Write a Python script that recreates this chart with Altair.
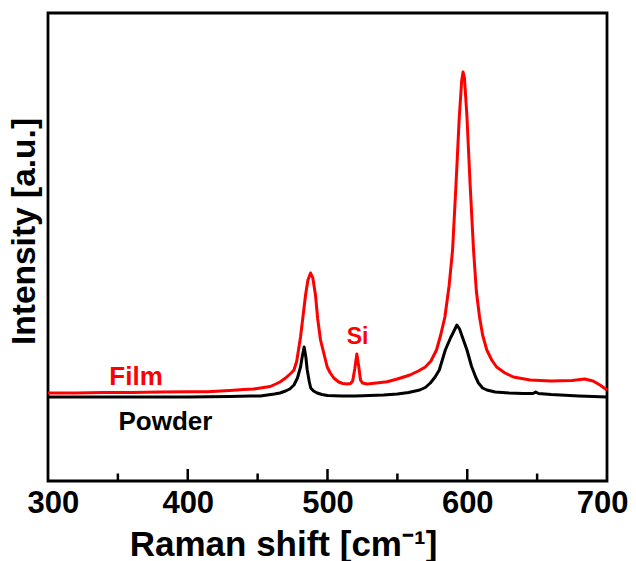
import altair as alt
import pandas as pd

# Raman shift (cm^-1) and intensity (a.u.)
film_x = [300, 320, 340, 360, 380, 400, 414, 430, 440, 447, 452, 459, 463, 466, 470, 474, 476, 478,
          480.7, 482.5, 484.3, 486, 487.9, 489.5, 491.4, 493, 495, 497.5, 499.8, 502, 504.5, 508, 511,
          514, 516.5, 518, 519.5, 521, 522.5, 523.6, 525, 528.4, 535, 542.6, 550, 559, 565, 570, 574,
          578, 581, 584, 587, 589.5, 592, 594.3, 596, 597, 598, 599.8, 602, 604.5, 606.5, 608.8, 611,
          614, 617.5, 621, 627, 633, 645, 660, 675, 684, 690, 695, 700]
film_y = [88, 88, 88.5, 88.5, 89, 89.3, 89.3, 90.5, 91.5, 92, 93, 94.5, 97, 99, 103, 108, 111, 120,
          144, 165, 186, 201, 208, 203, 186, 162, 141, 127, 114, 108, 103, 99, 97.5,
          97, 97.5, 100, 112, 127, 113, 101, 98, 97, 98, 99.3, 102, 106, 110, 114, 120,
          131, 146, 164, 195, 231, 298, 364, 400, 409, 403, 364, 298, 231, 190, 164, 146,
          131, 121, 114, 108, 104, 101, 100, 100.5, 102, 100, 96, 91]

powder_x = [300, 350, 400, 430, 445, 452, 457, 462, 466, 470, 473, 476, 478.5, 480.7, 482, 483.3,
            484.5, 485.5, 487, 488, 490, 492.6, 496, 500, 510, 520, 530, 540, 550, 558, 566, 570,
            573.6, 577, 580, 584.3, 588, 590.5, 592.6, 594.5, 597, 599.8, 603, 606, 608, 611, 614,
            620, 630, 640, 647, 649, 651, 660, 680, 700]
powder_y = [84, 84, 84, 84.5, 85, 85, 86, 87, 88, 90, 92, 96, 103, 114, 125, 134,
            124, 111, 99, 93, 90, 88, 86.5, 85.5, 85, 85, 85.5, 86, 87, 88.5, 91, 93.5,
            98, 104, 111, 131, 143, 150, 156, 152, 142, 131, 115, 104, 98, 93, 91,
            89, 88, 87.5, 87.5, 89, 87.5, 86.5, 85, 84]

x_ticks = [300, 400, 500, 600, 700]
major_ticks = [400, 500, 600]
minor_ticks = [350, 450, 550, 650]

label_text = ["Film", "Powder", "Si"]
label_x = [363, 384, 521.5]
label_y = [104, 59, 144]
label_color = ["#ff0000", "#000000", "#ff0000"]

FONT = "Liberation Sans"

df = pd.concat([
    pd.DataFrame({"shift": film_x, "intensity": film_y, "series": "Film"}),
    pd.DataFrame({"shift": powder_x, "intensity": powder_y, "series": "Powder"}),
])

xs = alt.Scale(domain=[300, 700], nice=False, zero=False)
ys = alt.Scale(domain=[0, 468], nice=False, zero=True)

lines = alt.Chart(df).mark_line(strokeWidth=3, strokeJoin="round").encode(
    x=alt.X("shift:Q", scale=xs,
            axis=alt.Axis(title="Raman shift [cm⁻¹]", values=x_ticks, format="d",
                          ticks=False, domain=False, grid=False,
                          labelFont=FONT, labelFontSize=31, labelFontWeight="bold",
                          labelColor="black", labelPadding=7,
                          labelFlush=True, labelFlushOffset=21,
                          titleFont=FONT, titleFontSize=35, titleFontWeight="bold",
                          titleColor="black", titleBaseline="alphabetic",
                          titleX=235, titleY=74)),
    y=alt.Y("intensity:Q", scale=ys,
            axis=alt.Axis(title="Intensity [a.u.]", labels=False, ticks=False, domain=False,
                          grid=False, titleFont=FONT, titleFontSize=33.5, titleFontWeight="bold",
                          titleColor="black", titlePadding=7, titleY=218)),
    color=alt.Color("series:N", scale=alt.Scale(domain=["Film", "Powder"],
                                                range=["#ff0000", "#000000"]), legend=None),
    order=alt.Order("shift:Q"),
)

tick_df = pd.concat([
    pd.DataFrame({"t": major_ticks, "len": 12.0}),
    pd.DataFrame({"t": minor_ticks, "len": 7.5}),
])
tick_df["zero"] = 0.0
ticks = alt.Chart(tick_df).mark_rule(color="black", strokeWidth=2.5).encode(
    x=alt.X("t:Q", scale=xs),
    y=alt.Y("zero:Q", scale=ys),
    y2="len:Q",
)

lab_df = pd.DataFrame({"text": label_text, "x": label_x, "y": label_y, "c": label_color})
big = alt.Chart(lab_df.iloc[:2]).mark_text(font=FONT, fontSize=26, fontWeight="bold").encode(
    x=alt.X("x:Q", scale=xs), y=alt.Y("y:Q", scale=ys),
    text="text:N", color=alt.Color("c:N", scale=None),
)
small = alt.Chart(lab_df.iloc[2:]).mark_text(font=FONT, fontSize=23, fontWeight="bold").encode(
    x=alt.X("x:Q", scale=xs), y=alt.Y("y:Q", scale=ys),
    text="text:N", color=alt.Color("c:N", scale=None),
)

chart = alt.layer(lines, ticks, big, small).properties(
    width=559, height=468,
    autosize=alt.AutoSizeParams(type="none"),
    padding={"left": 40, "top": 5, "right": 21, "bottom": 80},
).configure(background="white").configure_view(stroke="black", strokeWidth=2.8)

chart.save("out.html", embed_options={"renderer": "svg", "actions": False})
